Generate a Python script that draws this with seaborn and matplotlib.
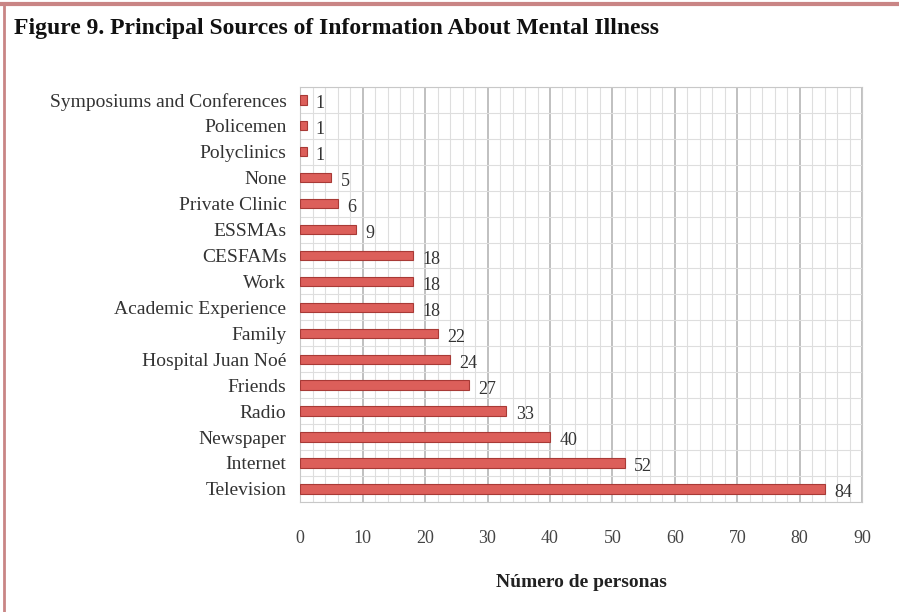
import numpy as np
import pandas as pd
import seaborn as sns
import matplotlib.pyplot as plt
from matplotlib.lines import Line2D
from matplotlib.ticker import MultipleLocator

# data (top to bottom)
sources = [
    "Symposiums and Conferences",
    "Policemen",
    "Polyclinics",
    "None",
    "Private Clinic",
    "ESSMAs",
    "CESFAMs",
    "Work",
    "Academic Experience",
    "Family",
    "Hospital Juan Noé",
    "Friends",
    "Radio",
    "Newspaper",
    "Internet",
    "Television",
]
counts = [1, 1, 1, 5, 6, 9, 18, 18, 18, 22, 24, 27, 33, 40, 52, 84]

df = pd.DataFrame({"source": sources, "count": counts})

sns.set_style("white")
plt.rcParams["font.family"] = ["Liberation Serif", "DejaVu Serif"]

fig = plt.figure(figsize=(8.99, 6.12), dpi=100)
ax = fig.add_axes([0.334, 0.180, 0.625, 0.678])

sns.barplot(
    data=df,
    x="count",
    y="source",
    orient="h",
    color="#dc5f5a",
    edgecolor="#a83a36",
    linewidth=0.8,
    width=0.36,
    saturation=1,
    ax=ax,
    zorder=3,
)

for i, v in enumerate(counts):
    ax.text(v + 1.5, i + 0.15, str(v), va="center", ha="left", fontsize=13, color="#333333")

ax.set_xlim(0, 90)
ax.set_ylim(len(sources) - 0.5, -0.5)
ax.xaxis.set_major_locator(MultipleLocator(10))
ax.xaxis.set_minor_locator(MultipleLocator(2))
ax.yaxis.set_minor_locator(MultipleLocator(0.5))
ax.grid(which="major", axis="x", color="#b5b5b5", linewidth=1.2, zorder=0)
ax.grid(which="minor", axis="x", color="#dedede", linewidth=0.8, zorder=0)
ax.grid(which="minor", axis="y", color="#dedede", linewidth=0.8, zorder=0)
ax.set_axisbelow(True)

for s in ax.spines.values():
    s.set_color("#c8c8c8")
    s.set_linewidth(0.8)

ax.tick_params(axis="x", which="major", labelsize=13, pad=16, length=4, color="#999999", labelcolor="#444444")
ax.tick_params(axis="y", labelsize=14, length=4, color="#999999", labelcolor="#333333", pad=6)
ax.set_ylabel("")
ax.set_xlabel("Número de personas", fontsize=14, fontweight="bold", labelpad=20, color="#222222")

fig.text(0.016, 0.953, "Figure 9. Principal Sources of Information About Mental Illness",
         fontsize=17, fontweight="bold", ha="left", va="center", color="#111111")

# page border (top and left)
fig.add_artist(Line2D([0, 1], [0.994, 0.994], transform=fig.transFigure, color="#c98585", linewidth=3))
fig.add_artist(Line2D([0.004, 0.004], [0, 0.994], transform=fig.transFigure, color="#c98585", linewidth=2))

fig.savefig("out.png", dpi=100)
